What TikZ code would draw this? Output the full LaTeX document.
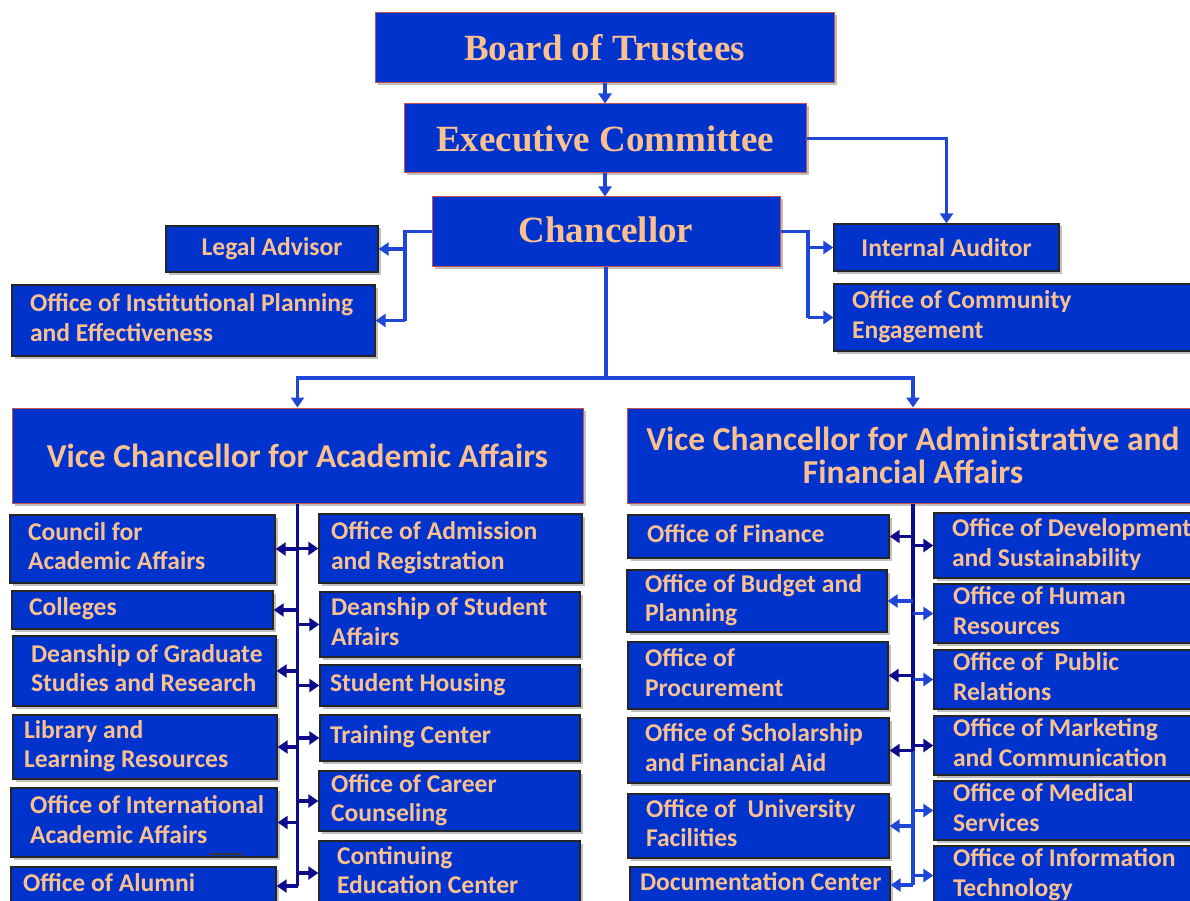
\documentclass[tikz,border=0pt]{standalone}
\usepackage{fontspec}
\setmainfont{Carlito}
\newfontfamily\tnr{Liberation Serif}
\usetikzlibrary{arrows.meta,shadows,calc}
\definecolor{boxblue}{RGB}{0,51,204}
\definecolor{peach}{RGB}{250,192,144}
\definecolor{redline}{RGB}{200,80,77}
\definecolor{conblue}{RGB}{30,70,215}
\definecolor{navy}{RGB}{12,12,140}
\newcommand\bx[8]{%
  \pgfmathsetmacro\bxw{#5-#3}%
  \pgfmathsetmacro\bxh{#6-#4}%
  \pgfmathsetmacro\bxtw{#5-#3-2*#7}%
  \node[#1, minimum width=\bxw pt, minimum height=\bxh pt] (#2) at ({(#3+#5)/2},{(#4+#6)/2})
    {\makebox[\bxtw pt][l]{\begin{tabular}{@{}l@{}}#8\end{tabular}}};}
\newcommand\cbx[7]{%
  \pgfmathsetmacro\bxw{#5-#3}%
  \pgfmathsetmacro\bxh{#6-#4}%
  \node[#1, minimum width=\bxw pt, minimum height=\bxh pt] (#2) at ({(#3+#5)/2},{(#4+#6)/2}) {#7};}
\begin{document}
\begin{tikzpicture}[x=1pt,y=-1pt,
  base/.style={fill=boxblue,text=peach,inner sep=0pt,
    drop shadow={shadow xshift=2.5pt,shadow yshift=-2.5pt,opacity=0.35,fill=black!70}},
  lowbox/.style={base,draw=black!85,line width=1.3pt,font=\bfseries\fontsize{25.6}{29.5}\selectfont},
  midbox/.style={lowbox,align=center},
  topbox/.style={base,draw=redline,line width=1pt,font=\tnr\bfseries\fontsize{37}{40}\selectfont},
  vcbox/.style={base,draw=redline,line width=1pt,font=\bfseries\fontsize{33.5}{33}\selectfont,align=center},
  link/.style={line width=3.2pt,draw=conblue},
  arr/.style={link,-{Triangle[length=10pt,width=13pt]}},
  nlink/.style={link,draw=navy},
  narr/.style={arr,draw=navy}]
\useasboundingbox (0,0) rectangle (1190,901);
\fill[white] (0,0) rectangle (1190,901);
\clip (0,0) rectangle (1190,901);

% top levels
\cbx{topbox}{bot}{375}{13}{834}{83}{Board of Trustees}
\cbx{topbox}{exe}{404}{104}{806}{173}{Executive Committee}
\cbx{topbox}{chan}{432}{197}{780}{266}{\raisebox{3pt}{Chancellor}}
\cbx{midbox}{legal}{166}{226}{378}{272}{Legal Advisor}
\bx{lowbox}{inst}{12}{285}{375}{356}{18}{Office of Institutional Planning\\and Effectiveness}
\cbx{midbox}{aud}{834}{224}{1059}{271}{Internal Auditor}
\bx{lowbox}{comm}{834}{284}{1200}{351}{18}{Office of Community\\Engagement}
\cbx{vcbox}{vca}{12}{408}{583}{503}{Vice Chancellor for Academic Affairs}
\cbx{vcbox}{vcb}{627}{408}{1199}{503}{Vice Chancellor for Administrative and\\Financial Affairs}

% academic, left
\bx{lowbox}{a1}{10}{515}{275}{583}{18}{Council for\\Academic Affairs}
\bx{lowbox}{a2}{12}{591}{273}{629}{17}{Colleges}
\bx{lowbox}{a3}{13}{636}{276}{706}{18}{Deanship of Graduate\\Studies and Research}
\bx{lowbox}{a4}{13}{715}{277}{779}{11}{Library and\\Learning Resources}
\bx{lowbox}{a5}{11}{788}{277}{857}{19}{Office of International\\Academic Affairs}
\bx{lowbox}{a6}{11}{867}{276}{905}{12}{Office of Alumni}
% academic, right
\bx{lowbox}{b1}{319}{514}{582}{583}{12}{Office of Admission\\and Registration}
\bx{lowbox}{b2}{320}{592}{580}{657}{11}{Deanship of Student\\Affairs}
\bx{lowbox}{b3}{320}{665}{580}{706}{10}{Student Housing}
\bx{lowbox}{b4}{320}{715}{580}{761}{10}{Training Center}
\bx{lowbox}{b5}{319}{771}{580}{831}{12}{Office of Career\\Counseling}
\bx{lowbox}{b6}{319}{841}{580}{905}{18}{Continuing\\Education Center}
% administrative, left
\bx{lowbox}{c1}{628}{515}{889}{558}{19}{Office of Finance}
\bx{lowbox}{c2}{627}{570}{887}{632}{18}{Office of Budget and\\Planning}
\bx{lowbox}{c3}{628}{642}{888}{709}{17}{Office of\\Procurement}
\bx{lowbox}{c4}{628}{718}{889}{783}{17}{Office of Scholarship\\and Financial Aid}
\bx{lowbox}{c5}{628}{794}{889}{858}{18}{Office of~ University\\Facilities}
\bx{lowbox}{c6}{630}{867}{890}{903}{10}{Documentation Center}
% administrative, right
\bx{lowbox}{d1}{934}{513}{1200}{578}{18}{Office of Development\\and Sustainability}
\bx{lowbox}{d2}{934}{585}{1200}{642}{19}{Office of Human\\Resources}
\bx{lowbox}{d3}{934}{650}{1200}{709}{19}{Office of~ Public\\Relations}
\bx{lowbox}{d4}{934}{716}{1200}{775}{19}{Office of Marketing\\and Communication}
\bx{lowbox}{d5}{934}{782}{1200}{839}{19}{Office of Medical\\Services}
\bx{lowbox}{d6}{934}{846}{1200}{905}{19}{Office of Information\\Technology}

\draw[black!80,line width=1.5pt] (210,854) -- (243,854);

% connectors, top
\draw[arr] (exe.north |- bot.south) -- (exe.north);
\draw[arr] (exe.south) -- (exe.south |- chan.north);
\draw[arr] (exe.east) -| (aud.north);
\coordinate (cl) at (405,231.5);
\coordinate (cr) at (808,231.5);
\draw[link] (chan.west) -- (cl) -- (cl |- inst.east);
\draw[arr] (cl |- legal.east) -- (legal.east);
\draw[arr] (cl |- inst.east) -- (inst.east);
\draw[link] (chan.east) -- (cr) -- (cr |- comm.west);
\draw[arr] (cr |- aud.west) -- (aud.west);
\draw[arr] (cr |- comm.west) -- (comm.west);
\coordinate (split) at (606,378);
\draw[link] (chan.south) -- (split);
\draw[arr] (split) -| (vca.north);
\draw[arr] (split) -| (vcb.north);

% academic trunk
\draw[nlink] (vca.south) -- (vca.south |- a6.east);
\foreach \n in {a1,a2,a3,a4,a5,a6} \draw[narr] (vca.south |- \n.east) -- (\n.east);
\foreach \n in {b1,b2,b3,b4,b5,b6} \draw[narr] (vca.south |- \n.west) -- (\n.west);

% administrative trunk
\coordinate (tb) at (vcb.south |- c4.east);
\draw[nlink] (vcb.south) -- (tb);
\draw[link] (tb) -- (vcb.south |- c6.east);
\foreach \n in {c1,c3,c4} \draw[narr] (vcb.south |- \n.east) -- (\n.east);
\foreach \n in {c2,c5,c6} \draw[arr] (vcb.south |- \n.east) -- (\n.east);
\foreach \n in {d1,d4} \draw[narr] (vcb.south |- \n.west) -- (\n.west);
\foreach \n in {d2,d3,d5,d6} \draw[arr] (vcb.south |- \n.west) -- (\n.west);
\end{tikzpicture}
\end{document}
